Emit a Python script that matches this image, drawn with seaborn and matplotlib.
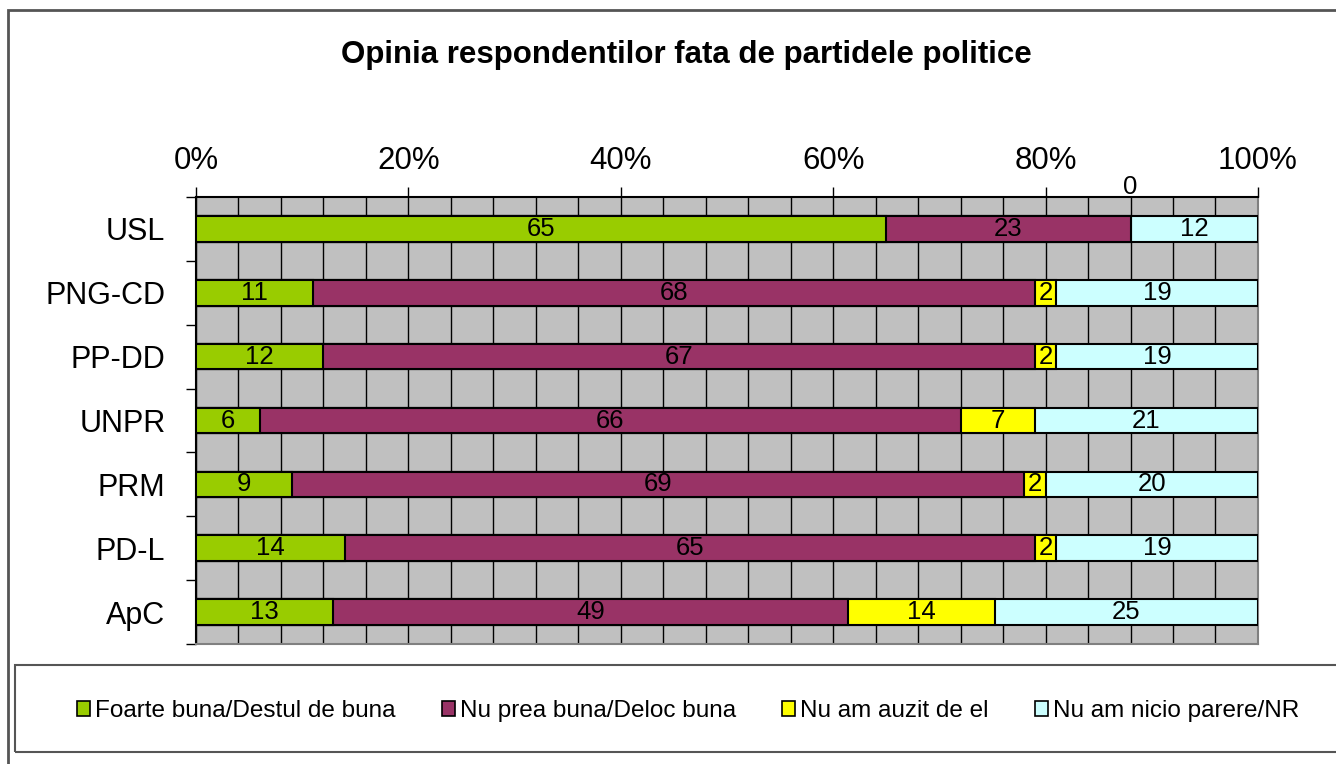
import numpy as np
import pandas as pd
import matplotlib
matplotlib.use('Agg')
import matplotlib.pyplot as plt
from matplotlib.patches import Rectangle
from matplotlib.ticker import MultipleLocator, FixedLocator
import seaborn as sns

# chart data
parties = ['USL', 'PNG-CD', 'PP-DD', 'UNPR', 'PRM', 'PD-L', 'ApC']
series = ['Foarte buna/Destul de buna', 'Nu prea buna/Deloc buna',
          'Nu am auzit de el', 'Nu am nicio parere/NR']
buna = [65, 11, 12, 6, 9, 14, 13]
nu_buna = [23, 68, 67, 66, 69, 65, 49]
nu_auzit = [0, 2, 2, 7, 2, 2, 14]
nicio_parere = [12, 19, 19, 21, 20, 19, 25]
colors = ['#99CC00', '#993366', '#FFFF00', '#CCFFFF']

sns.set_style('white')
plt.rcParams['font.family'] = ['Liberation Sans', 'DejaVu Sans']
plt.rcParams['text.color'] = 'black'
plt.rcParams['xtick.color'] = 'black'
plt.rcParams['ytick.color'] = 'black'
plt.rcParams['xtick.labelcolor'] = 'black'
plt.rcParams['ytick.labelcolor'] = 'black'

values = np.array([buna, nu_buna, nu_auzit, nicio_parere], dtype=float)
pct = values / values.sum(axis=0) * 100  # 100% stacked
cum = pct.cumsum(axis=0)

fig = plt.figure(figsize=(13.36, 7.64), dpi=100)
ax = fig.add_axes([0.1467, 0.1571, 0.7949, 0.585])
ax.set_facecolor('#C0C0C0')

# stacked bars: draw cumulative totals from the longest down
for k in range(len(series) - 1, -1, -1):
    df = pd.DataFrame({'party': parties, 'cum': cum[k]})
    sns.barplot(data=df, x='cum', y='party', order=parties, color=colors[k],
                saturation=1, width=0.4, edgecolor='black', linewidth=1.5,
                errorbar=None, orient='h', ax=ax, zorder=3)

# labels in the middle of every segment
for k in range(len(series)):
    for i, p in enumerate(parties):
        centre = cum[k][i] - pct[k][i] / 2
        lab = str(int(values[k][i]))
        if values[k][i] == 0:
            ax.annotate(lab, (centre, i), xytext=(0, 30), textcoords='offset points',
                        ha='center', va='center', fontsize=18.5, zorder=5,
                        color='black', annotation_clip=False)
        else:
            ax.text(centre, i, lab, ha='center', va='center', fontsize=18.5,
                    color='black', zorder=5)

ax.set_xlim(0, 100)
ax.set_ylim(6.5, -0.5)
ax.set_xlabel('')
ax.set_ylabel('')

# x axis on top, labelled every 20%, gridlines every 4%
ax.xaxis.tick_top()
ax.xaxis.set_major_locator(MultipleLocator(20))
ax.xaxis.set_minor_locator(MultipleLocator(4))
ax.set_xticklabels([f'{int(t)}%' for t in ax.get_xticks()])
ax.grid(True, axis='x', which='both', color='black', linewidth=1, zorder=1)
ax.set_axisbelow(True)
ax.tick_params(axis='x', which='major', length=7, width=1, pad=8, labelsize=22.5,
               top=True, bottom=False)
ax.tick_params(axis='x', which='minor', length=0, top=False, bottom=False)

# category ticks sit between the bars
ax.yaxis.set_minor_locator(FixedLocator(np.arange(-0.5, 7, 1)))
ax.tick_params(axis='y', which='major', length=0, pad=22, labelsize=22)
ax.tick_params(axis='y', which='minor', length=7, width=1, left=True)

for side in ['top', 'left']:
    ax.spines[side].set_color('black')
    ax.spines[side].set_linewidth(1.5)
for side in ['right', 'bottom']:
    ax.spines[side].set_color('#808080')
    ax.spines[side].set_linewidth(1.5)
    ax.spines[side].set_visible(True)

fig.text(0.5135, 0.928, 'Opinia respondentilor fata de partidele politice',
         ha='center', va='center', fontsize=22.5, fontweight='bold', color='black')

# outer chart frame and legend box
fig.patches.append(Rectangle((8 / 1336, -0.2), 1.2, 1.187, transform=fig.transFigure,
                             fill=False, edgecolor='#555555', linewidth=2))
fig.patches.append(Rectangle((15 / 1336, 0.0157), 1.2, 0.1139, transform=fig.transFigure,
                             fill=False, edgecolor='#555555', linewidth=1.5))

handles = [Rectangle((0, 0), 1, 1, facecolor=c, edgecolor='black', linewidth=1.2)
           for c in colors]
fig.legend(handles, series, loc='center', bbox_to_anchor=(0.515, 0.069), ncol=4,
           frameon=False, fontsize=17.5, handlelength=0.55, handleheight=0.55,
           handletextpad=0.2, columnspacing=1.9)

fig.savefig('out.png', dpi=100)
